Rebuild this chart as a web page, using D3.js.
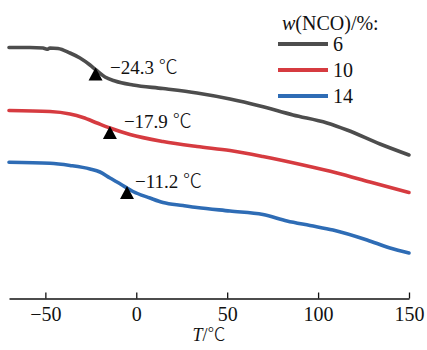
<!DOCTYPE html>
<html>
<head>
<meta charset="utf-8">
<script src="https://cdn.jsdelivr.net/npm/d3@7"></script>
<style>
  html, body { margin: 0; padding: 0; background: #fff; }
  svg { display: block; }
  text { font-family: "Liberation Serif", "Times New Roman", "Noto Sans CJK SC", serif; fill: #111; }
  .cjk { font-family: "Noto Sans CJK SC", "Liberation Serif", serif; font-weight: 300; }
</style>
</head>
<body>
<svg id="chart" width="427" height="350"></svg>
<script>
// ---------------- data ----------------
const seriesNames = ["6", "10", "14"];
const seriesColors = ["#4d4d4d", "#d63b40", "#2e6cb5"];

const tempGray = [-70, -58.5, -51.3, -49.1, -47.45, -43.05, -36.45, -30.95, -25.45, -22.15, -17.2, -11.7, -1.8, 14.7, 33.4, 51.55, 68.05, 86.2, 104.9, 115.9, 134.05, 150];
const heatGray = [2.525, 2.525, 2.52, 2.507, 2.52, 2.515, 2.47, 2.42, 2.35, 2.30, 2.23, 2.19, 2.15, 2.115, 2.07, 2.01, 1.94, 1.85, 1.77, 1.70, 1.56, 1.45];

const tempRed = [-70, -47.45, -36.45, -29.3, -21.6, -14.45, -3.45, 14.7, 33.4, 51.55, 69.7, 91.7, 110.4, 128.55, 150];
const heatRed = [1.895, 1.885, 1.86, 1.825, 1.77, 1.72, 1.655, 1.585, 1.535, 1.495, 1.435, 1.35, 1.27, 1.18, 1.075];

const tempBlue = [-70, -47.45, -36.45, -25.45, -19.95, -14.45, -10.6, -5.1, -1.8, 7.55, 14.7, 25.7, 33.4, 51.55, 69.7, 82.9, 95.55, 108.2, 126.9, 139.55, 150];
const heatBlue = [1.377, 1.367, 1.345, 1.31, 1.28, 1.22, 1.18, 1.12, 1.085, 1.02, 0.975, 0.945, 0.925, 0.89, 0.855, 0.79, 0.745, 0.70, 0.60, 0.52, 0.47];

const markerTemps = [-22.4, -14.5, -5.1];
const markerValues = ["\u221224.3", "\u221217.9", "\u221211.2"];
const unitLabel = "\u2103";

const xTicks = [-50, 0, 50, 100, 150];
const xDomain = [-70, 150];
const yDomain = [0, 3];

// ---------------- layout ----------------
const svg = d3.select("#chart");
const axisY = 298.5;
const x = d3.scaleLinear().domain(xDomain).range([9, 409]);
const y = d3.scaleLinear().domain(yDomain).range([300, 0]);

const seriesData = [
  d3.zip(tempGray, heatGray),
  d3.zip(tempRed, heatRed),
  d3.zip(tempBlue, heatBlue)
];

const line = d3.line()
  .x(d => x(d[0]))
  .y(d => y(d[1]))
  .curve(d3.curveMonotoneX);

// curves
svg.append("g").selectAll("path")
  .data(seriesData)
  .join("path")
  .attr("d", line)
  .attr("fill", "none")
  .attr("stroke", (d, i) => seriesColors[i])
  .attr("stroke-width", 3.6)
  .attr("stroke-linecap", "round")
  .attr("stroke-linejoin", "round");

// glass-transition markers (triangle apex on the curve)
const labelDx = [14.5, 14, 8];
const labelDy = [6, 2, 2];
const triW = 14, triH = 13;
markerTemps.forEach((t, i) => {
  const interp = d3.scaleLinear().domain(seriesData[i].map(d => d[0])).range(seriesData[i].map(d => d[1]));
  const cx = x(t);
  const apex = y(interp(t)) - 2;
  svg.append("path")
    .attr("d", `M${cx},${apex}L${cx + triW / 2},${apex + triH}L${cx - triW / 2},${apex + triH}Z`)
    .attr("fill", "#000");
  const tx = svg.append("text")
    .attr("x", cx + labelDx[i])
    .attr("y", apex + labelDy[i])
    .attr("font-size", 19);
  tx.append("tspan").text(markerValues[i] + "\u00a0");
  tx.append("tspan").attr("class", "cjk").text(unitLabel);
});

// x axis
const axis = d3.axisBottom(x)
  .tickValues(xTicks)
  .tickSizeInner(-6)
  .tickSizeOuter(0)
  .tickPadding(8)
  .tickFormat(d3.format("d"));

const gx = svg.append("g")
  .attr("transform", `translate(0,${axisY})`)
  .call(axis);
gx.select(".domain").attr("stroke", "#111").attr("stroke-width", 1.5);
gx.selectAll(".tick line").attr("stroke", "#111").attr("stroke-width", 1.3);
gx.selectAll(".tick text")
  .attr("font-size", 20)
  .attr("font-family", "Liberation Serif, Times New Roman, serif")
  .attr("fill", "#111");

// axis title
const xt = svg.append("text")
  .attr("x", 209)
  .attr("y", 341)
  .attr("text-anchor", "middle")
  .attr("font-size", 18);
xt.append("tspan").attr("font-style", "italic").text("T");
xt.append("tspan").text("/");
xt.append("tspan").attr("class", "cjk").text(unitLabel);

// legend
const lt = svg.append("text")
  .attr("x", 282)
  .attr("y", 30)
  .attr("font-size", 20);
lt.append("tspan").attr("font-style", "italic").text("w");
lt.append("tspan").text("(NCO)/%:");

const legendY = [44, 70, 96];
seriesNames.forEach((name, i) => {
  svg.append("line")
    .attr("x1", 278).attr("x2", 328)
    .attr("y1", legendY[i]).attr("y2", legendY[i])
    .attr("stroke", seriesColors[i])
    .attr("stroke-width", 4);
  svg.append("text")
    .attr("x", 333)
    .attr("y", legendY[i] + 7)
    .attr("font-size", 20)
    .text(name);
});
</script>
</body>
</html>
